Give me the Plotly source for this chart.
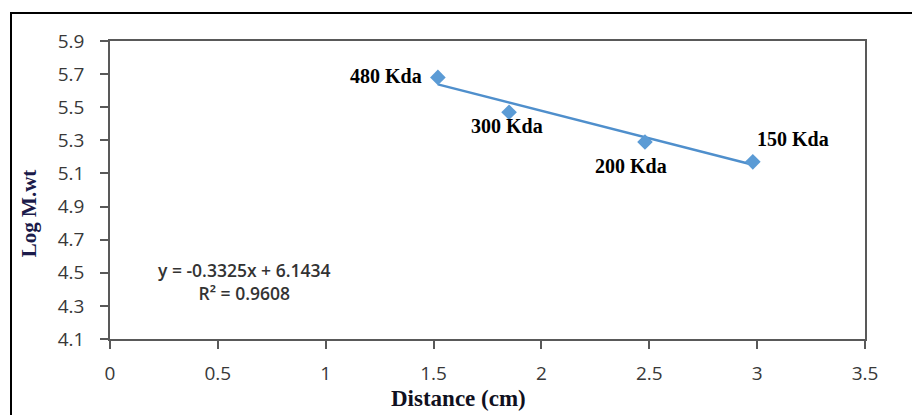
import plotly.graph_objects as go

# ---------------- data ----------------
distance_cm = [1.52, 1.85, 2.48, 2.98]
log_mw = [5.68, 5.47, 5.29, 5.17]
band_labels = ["480 Kda", "300 Kda", "200 Kda", "150 Kda"]
trend_slope = -0.3325
trend_intercept = 6.1434
r_squared = 0.9608
x_tick_values = [0, 0.5, 1, 1.5, 2, 2.5, 3, 3.5]
y_tick_values = [4.1, 4.3, 4.5, 4.7, 4.9, 5.1, 5.3, 5.5, 5.7, 5.9]
x_title = "Distance (cm)"
y_title = "Log M.wt"

# ---------------- styles ----------------
BLUE = "#5b9bd5"
LINE_BLUE = "#4f8fcc"
AXIS = "#595959"
TICK_FONT = dict(family="Open Sans, Liberation Sans, sans-serif", size=19, color="#383838")
LABEL_FONT = dict(family="Liberation Serif, Times New Roman, serif", size=20, color="#000000")
label_offsets = [(-52, 1), (-2, -14), (-14, -24), (40, 23)]

fig = go.Figure()

x_min, x_max = min(distance_cm), max(distance_cm)
fig.add_trace(go.Scatter(
    x=[x_min, x_max],
    y=[trend_slope * x_min + trend_intercept, trend_slope * x_max + trend_intercept],
    mode="lines",
    line=dict(color=LINE_BLUE, width=2.5),
    hoverinfo="skip",
    showlegend=False,
))
fig.add_trace(go.Scatter(
    x=distance_cm, y=log_mw, mode="markers",
    marker=dict(symbol="diamond", size=12, color=BLUE),
    showlegend=False,
))

annotations = []
for xv, yv, txt, (dx, dy) in zip(distance_cm, log_mw, band_labels, label_offsets):
    annotations.append(dict(
        x=xv, y=yv, xref="x", yref="y", text="<b>" + txt + "</b>",
        showarrow=False, xshift=dx, yshift=dy, font=LABEL_FONT,
        xanchor="center", yanchor="middle",
    ))

sign = "+" if trend_intercept >= 0 else "-"
eq_text = f"y = {trend_slope:.4f}x {sign} {abs(trend_intercept):.4f}<br>R² = {r_squared:.4f}"
annotations.append(dict(
    x=0.62, y=4.445, xref="x", yref="y", text=eq_text, showarrow=False,
    align="center", xanchor="center", yanchor="middle",
    font=dict(family="Open Sans, sans-serif", size=17.5, color="#333333", weight=600),
))
annotations.append(dict(
    x=0.461, y=-0.201, xref="paper", yref="paper", text="<b>" + x_title + "</b>",
    showarrow=False, xanchor="center", yanchor="middle",
    font=dict(family="Liberation Serif, Times New Roman, serif", size=23, color="#101020"),
))
annotations.append(dict(
    x=-0.107, y=0.423, xref="paper", yref="paper", text="<b>" + y_title + "</b>",
    showarrow=False, xanchor="center", yanchor="middle", textangle=-90,
    font=dict(family="Liberation Serif, Times New Roman, serif", size=21, color="#1b1b4a"),
))

fig.update_layout(
    width=912, height=415,
    margin=dict(l=110, r=47, t=41, b=76, autoexpand=False),
    paper_bgcolor="white", plot_bgcolor="white",
    annotations=annotations,
    shapes=[dict(type="rect", xref="paper", yref="paper",
                 x0=(11 - 110) / 755, x1=1.2, y0=-0.5, y1=1 + (41 - 13) / 298,
                 line=dict(color="black", width=2), layer="below")],
)
fig.update_xaxes(
    range=[0, 3.5], tickvals=x_tick_values, ticktext=[f"{v:g}" for v in x_tick_values],
    showgrid=False, zeroline=False, showline=True, mirror=True, automargin=False,
    linecolor=AXIS, linewidth=1.5, ticks="outside", ticklen=8, tickcolor=AXIS, tickwidth=1.5,
    tickfont=TICK_FONT, ticklabelstandoff=8,
)
fig.update_yaxes(
    range=[4.1, 5.9], tickvals=y_tick_values, ticktext=[f"{v:.1f}" for v in y_tick_values],
    showgrid=False, zeroline=False, showline=True, mirror=True, automargin=False,
    linecolor=AXIS, linewidth=1.5, ticks="outside", ticklen=8, tickcolor=AXIS, tickwidth=1.5,
    tickfont=TICK_FONT, ticklabelstandoff=12,
)

fig.write_html(
    "out.html",
    config={"displayModeBar": False},
    post_script="document.body.style.margin='0';document.body.style.overflow='hidden';",
)
